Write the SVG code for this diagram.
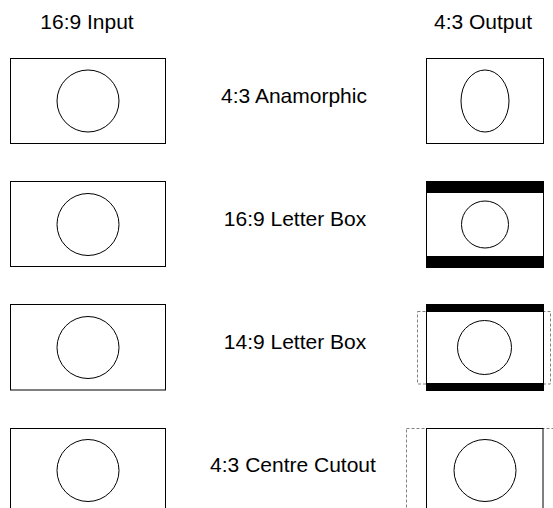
<svg xmlns="http://www.w3.org/2000/svg" width="553" height="508" viewBox="0 0 553 508">
<style>
text{font-family:"Liberation Sans",Arial,sans-serif;font-size:21px;fill:#000;text-anchor:middle}
.frame{fill:#fff;stroke:#000;stroke-width:1}
.shape{fill:none;stroke:#000;stroke-width:1}
.bar{fill:#000}
.dash{fill:none;stroke:#808080;stroke-width:1;stroke-dasharray:3 2}
</style>
<rect width="553" height="508" fill="#fff"/>
<g id="headers">
<text x="87" y="29">16:9 Input</text>
<text x="483" y="29">4:3 Output</text>
</g>
<g id="row1">
<g id="in1"><rect class="frame" x="10.5" y="58.5" width="155" height="85"/><circle class="shape" cx="88" cy="101" r="31"/></g>
<text id="label1" x="294" y="103">4:3 Anamorphic</text>
<g id="out1"><rect class="frame" x="426.5" y="58.5" width="117" height="85"/><ellipse class="shape" cx="485" cy="101" rx="24" ry="31"/></g>
</g>
<g id="row2">
<g id="in2"><rect class="frame" x="10.5" y="181.5" width="155" height="85"/><circle class="shape" cx="88" cy="224.5" r="31"/></g>
<text id="label2" x="295" y="226">16:9 Letter Box</text>
<g id="out2"><rect class="frame" x="426.5" y="181.5" width="117" height="86"/><rect class="bar" x="426" y="181" width="118" height="12"/><rect class="bar" x="426" y="256" width="118" height="12"/><circle class="shape" cx="485" cy="224.5" r="23.5"/></g>
</g>
<g id="row3">
<g id="in3"><rect class="frame" x="10.5" y="304.5" width="155" height="85.5"/><circle class="shape" cx="88" cy="347.5" r="31"/></g>
<text id="label3" x="295" y="349">14:9 Letter Box</text>
<g id="out3"><rect class="dash" x="417.5" y="311.5" width="133" height="72.5"/><rect class="frame" x="426.5" y="304.5" width="117" height="86"/><rect class="bar" x="426" y="304" width="118" height="8"/><rect class="bar" x="426" y="383" width="118" height="8"/><circle class="shape" cx="484.5" cy="347.5" r="27"/></g>
</g>
<g id="row4">
<g id="in4"><rect class="frame" x="10.5" y="428.5" width="155" height="85"/><circle class="shape" cx="88" cy="470.5" r="31"/></g>
<text id="label4" x="293" y="472">4:3 Centre Cutout</text>
<g id="out4"><rect class="dash" x="406.5" y="428.5" width="157" height="90"/><rect class="frame" x="426.5" y="428.5" width="116.5" height="85"/><circle class="shape" cx="485" cy="470.5" r="31"/></g>
</g>
</svg>
